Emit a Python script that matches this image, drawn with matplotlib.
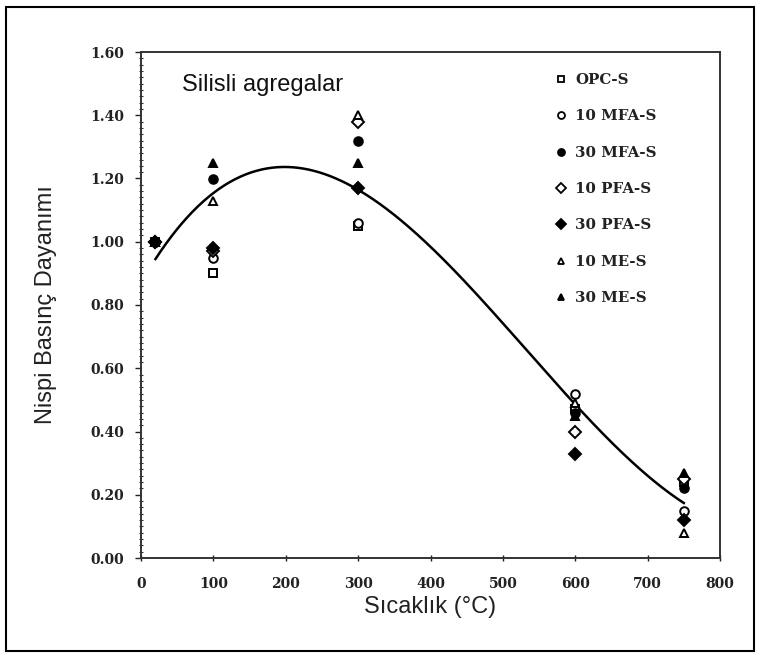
import numpy as np
import matplotlib
matplotlib.use("Agg")
import matplotlib.pyplot as plt
from matplotlib.lines import Line2D
from matplotlib.patches import Rectangle
from matplotlib.ticker import MultipleLocator, FormatStrFormatter

# Temperatures (°C)
temps = [20, 100, 300, 600, 750]

# Relative compressive strength for each mix
opc_s = [1.00, 0.90, 1.05, 0.47, 0.24]
mfa10_s = [1.00, 0.95, 1.06, 0.52, 0.15]
mfa30_s = [1.00, 1.20, 1.32, 0.46, 0.22]
pfa10_s = [1.00, 0.97, 1.38, 0.40, 0.25]
pfa30_s = [1.00, 0.98, 1.17, 0.33, 0.12]
me10_s = [1.00, 1.13, 1.40, 0.49, 0.08]
me30_s = [1.00, 1.25, 1.25, 0.45, 0.27]

labels = ["OPC-S", "10 MFA-S", "30 MFA-S", "10 PFA-S", "30 PFA-S", "10 ME-S", "30 ME-S"]
series = [opc_s, mfa10_s, mfa30_s, pfa10_s, pfa30_s, me10_s, me30_s]
markers = ["s", "o", "o", "D", "D", "^", "^"]
filled = [False, False, True, False, True, False, True]

fig = plt.figure(figsize=(7.6, 6.57), dpi=100)
ax = fig.add_axes([141 / 760, 1 - 558 / 657, (720 - 141) / 760, (558 - 52) / 657])

for vals, mk, fl, lab in zip(series, markers, filled, labels):
    ms = 6.2 if mk != "D" else 6.0
    ax.plot(temps, vals, linestyle="none", marker=mk, markersize=ms,
            markerfacecolor="black" if fl else "white",
            markeredgecolor="black", markeredgewidth=1.4, label=lab, zorder=3)

# Third-order trend through all measurements
x_all = np.concatenate([temps for _ in series])
y_all = np.concatenate(series)
coef = np.polyfit(x_all, y_all, 3)
xs = np.linspace(20, 750, 300)
ax.plot(xs, np.polyval(coef, xs), color="black", linewidth=1.8, zorder=2)

ax.set_xlim(0, 800)
ax.set_ylim(0, 1.6)
ax.xaxis.set_major_locator(MultipleLocator(100))
ax.yaxis.set_major_locator(MultipleLocator(0.2))
ax.yaxis.set_minor_locator(MultipleLocator(0.02))
ax.yaxis.set_major_formatter(FormatStrFormatter("%.2f"))
ax.tick_params(axis="y", which="major", direction="out", length=4, width=1, pad=8, colors="#222222")
ax.tick_params(axis="y", which="minor", direction="inout", length=3, width=0.8, colors="#333333")
ax.tick_params(axis="x", which="major", direction="inout", length=4, width=1, pad=12, colors="#222222")
for lbl in ax.get_xticklabels() + ax.get_yticklabels():
    lbl.set_fontfamily("DejaVu Serif")
    lbl.set_fontweight("bold")
    lbl.set_fontsize(10)
for sp in ax.spines.values():
    sp.set_linewidth(1.4)
    sp.set_color("#333333")

ax.set_xlabel("Sıcaklık (°C)", family="Liberation Sans", fontsize=17, labelpad=3, color="#222222")
ax.set_ylabel("Nispi Basınç Dayanımı", family="Liberation Sans", fontsize=17, labelpad=24, color="#222222")
ax.text(0.0708, 0.935, "Silisli agregalar", transform=ax.transAxes,
        family="Liberation Sans", fontsize=17, va="center", ha="left", color="#111111")

handles = [Line2D([], [], linestyle="none", marker=mk, markersize=5,
                  markerfacecolor="black" if fl else "white",
                  markeredgecolor="black", markeredgewidth=1.3)
           for mk, fl in zip(markers, filled)]
leg = ax.legend(handles, labels, loc="upper left", bbox_to_anchor=(0.695, 0.985),
                frameon=False, handlelength=0.6, handletextpad=0.63,
                labelspacing=1.49, prop=dict(family="DejaVu Serif", weight="bold", size=10.8))
for t in leg.get_texts():
    t.set_color("#222222")

# Outer frame around the figure
fig.patches.append(Rectangle((6 / 760, 6 / 657), 748 / 760, 644 / 657,
                             transform=fig.transFigure, fill=False,
                             edgecolor="black", linewidth=1.5))

fig.savefig("out.png", dpi=100)
